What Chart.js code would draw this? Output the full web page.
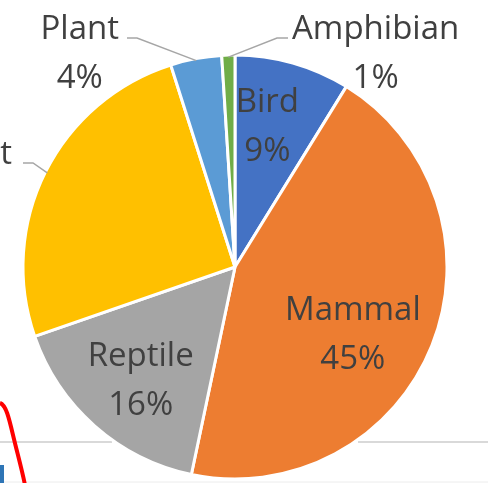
<!DOCTYPE html>
<html>
<head>
<meta charset="utf-8">
<script src="https://cdn.jsdelivr.net/npm/chart.js@4.4.1/dist/chart.umd.min.js"></script>
<style>
  html, body { margin: 0; padding: 0; background: #fff; overflow: hidden; }
  #wrap { position: relative; width: 488px; height: 483px; }
  #bg { position: absolute; left: 0; top: 0; }
  #chart { position: absolute; left: 0; top: 0; }
</style>
</head>
<body>
<div id="wrap">
  <!-- bits of the surrounding sheet that show around the cropped chart -->
  <svg id="bg" width="488" height="483">
    <line x1="0" y1="442" x2="112" y2="442" stroke="#d9d9d9" stroke-width="2"/>
    <line x1="358" y1="442" x2="488" y2="442" stroke="#d9d9d9" stroke-width="2"/>
    <line x1="0" y1="482" x2="488" y2="482" stroke="#ececec" stroke-width="1"/>
    <rect x="0" y="465" width="4" height="18" fill="#2e75b6"/>
    <path d="M0 403 C6 405 9 418 13 435 S22 470 25 485" fill="none" stroke="#ff0000" stroke-width="4"/>
  </svg>
  <canvas id="chart" width="488" height="483"></canvas>
</div>
<script>
const categories = ['Bird', 'Mammal', 'Reptile', 'Insect', 'Plant', 'Amphibian'];
// counts per 1000
const counts = [88, 445, 164, 254, 39, 10];
const sliceColors = ['#4472c4', '#ed7d31', '#a5a5a5', '#ffc000', '#5b9bd5', '#70ad47'];

const labelFont = '33px "Open Sans"';
const labelColor = '#404040';
const lineGap = 49;

// small shifts so the inside labels sit where Excel put them
const insideNudge = {
    'Bird': [-7, -4],
    'Mammal': [-16, 12],
    'Reptile': [1, 3]
};

// labels drawn outside the pie: end of the leader line, relative to pie centre
const outsideLabels = {
    'Insect': { ex: -212, ey: -104, side: 'left', gap: 11 },
    'Plant': { ex: -108, ey: -229, side: 'left', gap: 8 },
    'Amphibian': { ex: 53, ey: -229, side: 'right', gap: 4 }
};

const pieLabels = {
    id: 'pieLabels',
    afterDatasetsDraw(chart) {
        const ctx = chart.ctx;
        const meta = chart.getDatasetMeta(0);
        const total = counts.reduce((a, b) => a + b, 0);
        ctx.save();
        ctx.font = labelFont;
        ctx.fillStyle = labelColor;
        ctx.textBaseline = 'alphabetic';
        ctx.textAlign = 'center';
        meta.data.forEach((arc, i) => {
            const name = categories[i];
            const pct = Math.round(counts[i] * 100 / total) + '%';
            const mid = (arc.startAngle + arc.endAngle) / 2;
            const r = arc.outerRadius;
            const out = outsideLabels[name];
            if (!out) {
                const n = insideNudge[name] || [0, 0];
                const px = arc.x + Math.cos(mid) * r * 0.68 + n[0];
                const py = arc.y + Math.sin(mid) * r * 0.68 + n[1];
                const b1 = py - 12;
                ctx.fillText(name, px, b1);
                ctx.fillText(pct, px, b1 + lineGap);
                return;
            }
            // leader line: pie edge -> elbow -> horizontal end
            const sx = arc.x + Math.cos(mid) * (r - 2);
            const sy = arc.y + Math.sin(mid) * (r - 2);
            const endX = arc.x + out.ex;
            const endY = arc.y + out.ey;
            const elbowX = out.side === 'left' ? endX + 10 : endX - 11;
            ctx.strokeStyle = '#a6a6a6';
            ctx.lineWidth = 1.5;
            ctx.beginPath();
            ctx.moveTo(sx, sy);
            ctx.lineTo(elbowX, endY);
            ctx.lineTo(endX, endY);
            ctx.stroke();
            const w = Math.max(ctx.measureText(name).width, ctx.measureText(pct).width);
            const cx = out.side === 'left' ? endX - out.gap - w / 2 : endX + out.gap + w / 2;
            ctx.fillText(name, cx, endY + 1);
            ctx.fillText(pct, cx, endY + 1 + lineGap);
        });
        ctx.restore();
    }
};

new Chart(document.getElementById('chart').getContext('2d'), {
    type: 'pie',
    data: {
        labels: categories,
        datasets: [{
            data: counts,
            backgroundColor: sliceColors,
            borderColor: '#ffffff',
            borderWidth: 3,
            hoverOffset: 0,
            radius: 212
        }]
    },
    options: {
        responsive: false,
        animation: false,
        events: [],
        layout: { padding: { left: 20, right: 38, top: 52, bottom: 1 } },
        plugins: {
            legend: { display: false },
            tooltip: { enabled: false }
        }
    },
    plugins: [pieLabels]
});
</script>
</body>
</html>
